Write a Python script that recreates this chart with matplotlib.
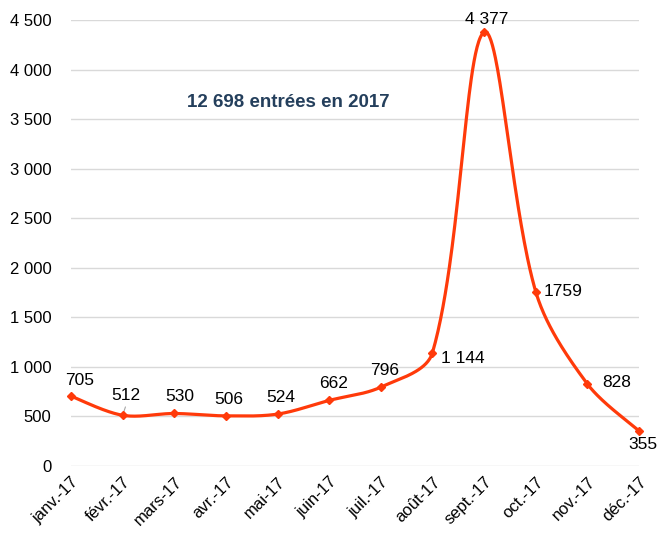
import numpy as np
import matplotlib
matplotlib.use("Agg")
import matplotlib.pyplot as plt
from matplotlib.ticker import FuncFormatter

months = ["janv.-17", "févr.-17", "mars-17", "avr.-17", "mai-17", "juin-17",
          "juil.-17", "août-17", "sept.-17", "oct.-17", "nov.-17", "déc.-17"]
values = [705, 512, 530, 506, 524, 662, 796, 1144, 4377, 1759, 828, 355]
labels = ["705", "512", "530", "506", "524", "662", "796", "1 144", "4 377", "1759", "828", "355"]
title_text = "12 698 entrées en 2017"

plt.rcParams['font.family'] = ['Liberation Sans', 'DejaVu Sans']

fig = plt.figure(figsize=(6.6, 5.34), dpi=100)
ax = fig.add_axes([0.1076, 0.1273, 0.8606, 0.8352])

x = np.arange(len(values), dtype=float)
y = np.array(values, dtype=float)

# Excel-like smoothing computed in pixel space
sxp = 568.0 / 11.0
syp = 446.0 / 4500.0

def smooth(xs, ys, k=1.0 / 3.0, n=60):
    P = np.column_stack([xs * sxp, ys * syp])
    N = len(P)
    cout = np.zeros_like(P)
    cin = np.zeros_like(P)
    for i in range(N):
        p0 = P[max(i - 1, 0)]; p1 = P[i]; p2 = P[min(i + 1, N - 1)]
        d01 = np.linalg.norm(p1 - p0); d12 = np.linalg.norm(p2 - p1)
        tot = d01 + d12
        tan = p2 - p0
        if i == 0 or i == N - 1:
            cout[i] = p1 + (p2 - p1) * k * 0.5
            cin[i] = p1 - (p1 - p0) * k * 0.5
        else:
            cout[i] = p1 + tan * (d12 / tot) * k
            cin[i] = p1 - tan * (d01 / tot) * k
    out = []
    t = np.linspace(0, 1, n)[:, None]
    for i in range(N - 1):
        p1 = P[i]; p2 = P[i + 1]; c1 = cout[i]; c2 = cin[i + 1]
        b = ((1 - t) ** 3) * p1 + 3 * ((1 - t) ** 2) * t * c1 + 3 * (1 - t) * t ** 2 * c2 + t ** 3 * p2
        out.append(b)
    b = np.vstack(out)
    return b[:, 0] / sxp, b[:, 1] / syp

sx, sy = smooth(x, y)
color = "#FF3A0A"
ax.plot(sx, sy, color=color, lw=2.3, solid_capstyle="round", zorder=3, clip_on=False)
ax.plot(x, y, linestyle="none", marker="D", markersize=4.5, color=color, zorder=4, clip_on=False)

ax.set_xlim(0, 11)
ax.set_ylim(0, 4500)
ax.set_yticks(np.arange(0, 4501, 500))
ax.yaxis.set_major_formatter(FuncFormatter(lambda v, p: f"{int(v):,}".replace(",", " ")))
ax.set_xticks(x)
ax.set_xticklabels(months, rotation=45, ha="right", rotation_mode="anchor")
ax.tick_params(axis="both", length=0, labelsize=12, colors="#000000")
ax.tick_params(axis="y", pad=14)
ax.tick_params(axis="x", pad=6)
ax.grid(axis="y", color="#D9D9D9", lw=1)
ax.set_axisbelow(True)
for s in ax.spines.values():
    s.set_visible(False)

# label offsets in points
offs = [(6, 11, "center"), (2, 14, "center"), (4, 12, "center"), (2, 12, "center"),
        (2, 12, "center"), (3, 12, "center"), (3, 12, "center"), (6, -4, "left"),
        (2, 9, "center"), (6, 0, "left"), (11, 1, "left"), (3, -10, "center")]
for xi, yi, lab, (dx, dy, ha) in zip(x, y, labels, offs):
    ax.annotate(lab, (xi, yi), xytext=(dx, dy), textcoords="offset points",
                ha=ha, va="center", fontsize=12.5, color="#000000", zorder=5,
                annotation_clip=False)

# small leader line for the février label
ax.annotate("", (x[1], y[1]), xytext=(2, 6), textcoords="offset points",
            arrowprops=dict(arrowstyle="-", color="#A6A6A6", lw=0.8, shrinkA=0, shrinkB=2))

ax.text(0.382, 0.816, title_text, transform=ax.transAxes, ha="center", va="center",
        fontsize=13.5, fontweight="bold", color="#243F5C")

fig.savefig("out.png", dpi=100)
